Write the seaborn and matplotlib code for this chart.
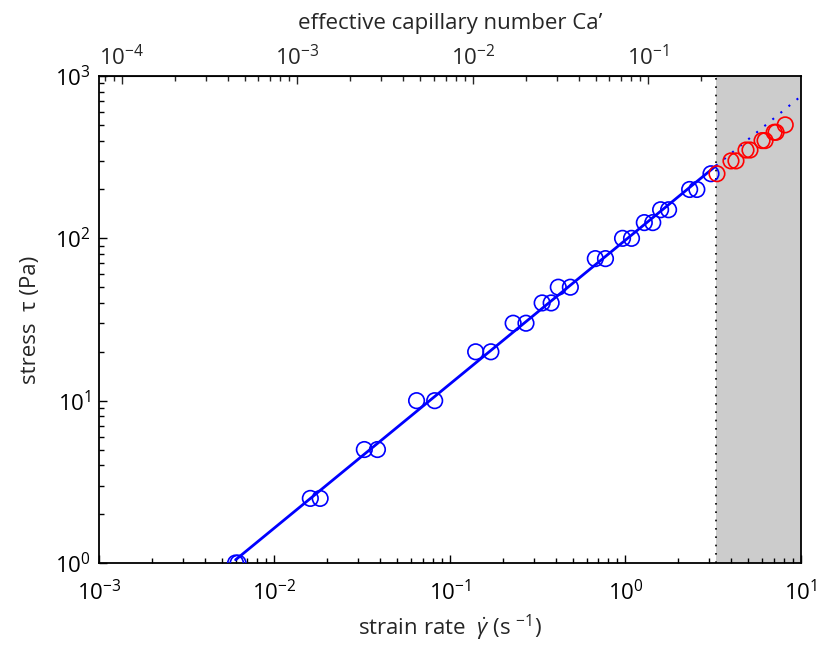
import numpy as np
import pandas as pd
import seaborn as sns
import matplotlib
matplotlib.use("Agg")
import matplotlib.pyplot as plt
from matplotlib import font_manager
from matplotlib.ticker import LogLocator, NullFormatter, FixedLocator

# Flow curve: shear stress against strain rate
gamma_blue = [0.0060, 0.0062, 0.0160, 0.0182, 0.0325, 0.0386, 0.0645, 0.0818,
              0.140, 0.171, 0.229, 0.271, 0.335, 0.377, 0.414, 0.485,
              0.673, 0.769, 0.962, 1.082, 1.28, 1.43, 1.585, 1.76,
              2.32, 2.55, 3.07]
stress_blue = [1, 1, 2.5, 2.5, 5, 5, 10, 10,
               20, 20, 30, 30, 40, 40, 50, 50,
               75, 75, 100, 100, 125, 125, 150, 150,
               200, 200, 250]

gamma_red = [3.32, 3.99, 4.26, 4.86, 5.12, 6.00, 6.24, 7.03, 7.21, 8.13]
stress_red = [250, 300, 300, 350, 350, 400, 400, 450, 450, 500]

gamma_crit = 3.28          # onset of the shaded regime
ca_per_rate = 0.0741       # Ca' = ca_per_rate * strain rate
x_limits = (1e-3, 1e1)
y_limits = (1e0, 1e3)
ca_ticks = [1e-4, 1e-3, 1e-2, 1e-1]

df_blue = pd.DataFrame({"rate": gamma_blue, "stress": stress_blue})
df_red = pd.DataFrame({"rate": gamma_red, "stress": stress_red})

# Power-law fit on the low-rate branch
n_exp, logK = np.polyfit(np.log10(gamma_blue), np.log10(stress_blue), 1)
rate_solid = np.logspace(np.log10(min(gamma_blue)), np.log10(gamma_crit), 50)
rate_dotted = np.logspace(np.log10(gamma_crit), np.log10(x_limits[1]), 30)
df_fit_solid = pd.DataFrame({"rate": rate_solid, "stress": 10 ** logK * rate_solid ** n_exp})
df_fit_dotted = pd.DataFrame({"rate": rate_dotted, "stress": 10 ** logK * rate_dotted ** n_exp})

sns.set_style("ticks")


def pick_family():
    for fam, size in (("Liberation Sans Narrow", 18), ("Open Sans", 16)):
        try:
            font_manager.findfont(fam, fallback_to_default=False)
            return fam, size
        except Exception:
            continue
    return "DejaVu Sans", 15


family, fsize = pick_family()
plt.rcParams["font.family"] = [family, "DejaVu Sans"]
plt.rcParams["mathtext.fontset"] = "custom"
plt.rcParams["mathtext.rm"] = family
plt.rcParams["mathtext.it"] = family + ":italic"
plt.rcParams["mathtext.bf"] = family + ":bold"
plt.rcParams["axes.unicode_minus"] = True

fig = plt.figure(figsize=(8.2, 6.57), dpi=100)
ax = fig.add_axes([99 / 820, 1 - 563 / 657, (801 - 99) / 820, (563 - 76) / 657])

ax.set_xscale("log")
ax.set_yscale("log")
ax.set_xlim(*x_limits)
ax.set_ylim(*y_limits)

# shaded high-rate regime
ax.axvspan(gamma_crit, x_limits[1], color="#cccccc", lw=0, zorder=0.5)
ax.axvline(gamma_crit, color="k", ls=(0, (1, 4)), lw=1.2, zorder=0.6)

sns.lineplot(data=df_fit_solid, x="rate", y="stress", ax=ax, color="#0000ff",
             lw=2.0, zorder=3)
sns.lineplot(data=df_fit_dotted, x="rate", y="stress", ax=ax, color="#0000ff",
             lw=1.5, ls=(0, (1, 4)), zorder=3)

sns.scatterplot(data=df_blue, x="rate", y="stress", ax=ax, marker="o", s=125,
                facecolor="none", edgecolor="#0000ff", linewidth=1.2, zorder=4)
sns.scatterplot(data=df_red, x="rate", y="stress", ax=ax, marker="o", s=125,
                facecolor="none", edgecolor="#ff0000", linewidth=1.2, zorder=4)

ax.xaxis.set_major_locator(LogLocator(base=10, numticks=10))
ax.xaxis.set_minor_locator(LogLocator(base=10, subs=np.arange(2, 10), numticks=20))
ax.yaxis.set_major_locator(LogLocator(base=10, numticks=10))
ax.yaxis.set_minor_locator(LogLocator(base=10, subs=np.arange(2, 10), numticks=20))
ax.xaxis.set_minor_formatter(NullFormatter())
ax.yaxis.set_minor_formatter(NullFormatter())

ax.tick_params(which="both", direction="in", top=False, right=False,
               labelsize=fsize, colors="k", width=1.0)
ax.tick_params(which="major", length=6)
ax.tick_params(which="minor", length=3.5)
ax.tick_params(axis="x", which="major", pad=12)
ax.tick_params(axis="y", which="major", pad=6)
for sp in ax.spines.values():
    sp.set_visible(True)
    sp.set_linewidth(1.3)
    sp.set_color("k")

ax.set_xlabel("strain rate  $\\dot{\\gamma}$ (s $^{-1}$)", fontsize=fsize, labelpad=6)
ax.set_ylabel("stress  τ (Pa)", fontsize=fsize, labelpad=10)

# effective capillary number on the top axis
secax = ax.secondary_xaxis("top", functions=(lambda g: g * ca_per_rate,
                                              lambda c: c / ca_per_rate))
secax.set_xscale("log")
secax.xaxis.set_major_locator(FixedLocator(ca_ticks))
ca_lo, ca_hi = x_limits[0] * ca_per_rate, x_limits[1] * ca_per_rate
ca_minor = [m * 10.0 ** e for e in range(-5, 1) for m in range(2, 10)
            if ca_lo <= m * 10.0 ** e <= ca_hi]
secax.xaxis.set_minor_locator(FixedLocator(ca_minor))
secax.xaxis.set_minor_formatter(NullFormatter())
secax.tick_params(which="both", direction="in", labelsize=fsize, width=1.0)
secax.tick_params(which="major", length=6, pad=4)
secax.tick_params(which="minor", length=3.5)
secax.set_xlabel("effective capillary number Ca\u2019", fontsize=fsize, labelpad=12)

fig.savefig("out.png", dpi=100)
